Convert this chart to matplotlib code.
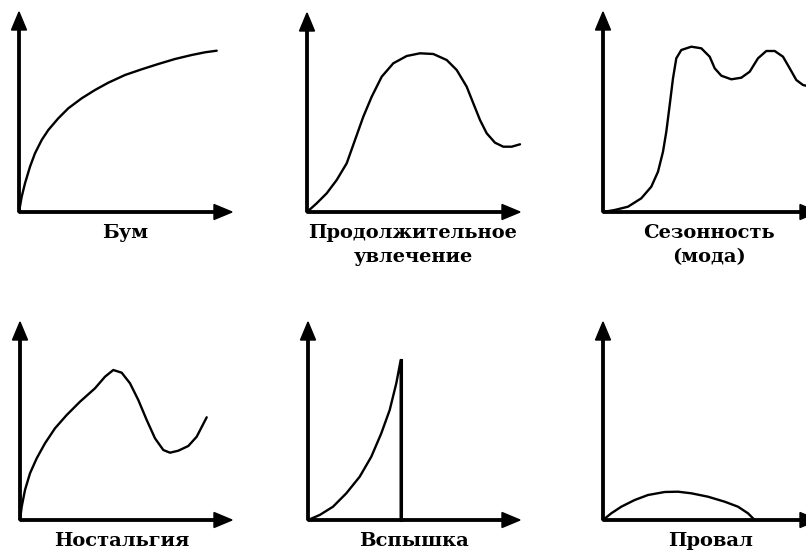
import matplotlib
matplotlib.use("Agg")
import matplotlib.pyplot as plt

# curve points (x, y offsets from each origin, pixels)
boom_x = [0, 2.7, 6, 11, 16, 22.7, 29.3, 39.3, 49.3, 62.7, 76, 89.3, 106, 122.7, 139.3, 156, 172.7, 186, 197.7]
boom_y = [0, 15.3, 28.7, 45.3, 58.7, 72, 82, 93.7, 103.7, 113.7, 122, 129.3, 137, 142.7, 148, 153, 157, 159.7, 161.3]

long_x = [0, 9.7, 19.7, 29.7, 39.7, 48, 56.3, 64.7, 74.7, 86.3, 99.7, 113, 126.3, 139.7, 149.7,
          159.7, 166.3, 173, 179.7, 188, 196.3, 204.7, 213]
long_y = [0, 8.7, 18.7, 32, 48.7, 72, 95.3, 115.3, 135.3, 148.7, 156, 158.7, 158, 152, 142,
          125.3, 108.7, 92, 78.7, 69.3, 65.3, 65.3, 67.7]

season_x = [0, 11.7, 25, 38.3, 48.3, 55, 60, 63.3, 66.7, 70, 73.3, 78.3, 88.3, 98.3, 106.7, 111.7,
            118.3, 128.3, 138.3, 146.7, 155, 163.3, 171.7, 180, 186.7, 193.3, 200, 203]
season_y = [0, 2, 5.3, 13.7, 25.3, 40.3, 60.3, 80.3, 107, 133.7, 153.7, 162, 165.3, 163.7, 155.3, 143.7,
            136.3, 132.7, 134.3, 140.3, 153.7, 161, 161, 155.3, 143.7, 132, 127, 126.3]

nost_x = [0, 1.7, 5, 10, 16.7, 25, 35, 46.7, 60, 75, 85, 93.3, 101.7, 110, 118.3, 126.7, 135,
          143.3, 150, 158.3, 168.3, 176.7, 186.7]
nost_y = [0, 13.3, 30, 46.7, 61.7, 76.7, 91.7, 105, 118.3, 131.7, 143.3, 150, 147.3, 136.7, 120, 100, 81.7,
          70, 67.3, 69.3, 74, 83.3, 102.7]

flash_x = [0, 11.7, 25, 38.3, 51.7, 63.3, 73.3, 81.7, 88.3, 92.7, 92.7]
flash_y = [0, 5, 13.3, 26.7, 43.3, 63.3, 86.7, 110, 136.7, 160, 0]

flop_x = [0, 8.3, 18.3, 31.7, 45, 61.7, 75, 88.3, 105, 121.7, 135, 145, 151.7]
flop_y = [0, 6.7, 13.3, 20, 25, 28, 28.3, 26.7, 23.3, 18.3, 13.3, 6.7, 0]

labels = ["Бум", "Продолжительное\nувлечение", "Сезонность\n(мода)",
          "Ностальгия", "Вспышка", "Провал"]
curves = [(boom_x, boom_y), (long_x, long_y), (season_x, season_y),
          (nost_x, nost_y), (flash_x, flash_y), (flop_x, flop_y)]

# panel origins in image pixels (left, top), axis arrow lengths, label centre
origins = [(19, 212), (307, 212), (603, 212), (20, 520), (308, 520), (603, 520)]
x_len = [213, 213, 215, 212, 212, 215]
y_len = [200, 199, 200, 198, 198, 198]
label_x = [106, 106, 106, 102, 106, 108]

W, H = 806, 554
fig = plt.figure(figsize=(W / 100, H / 100), dpi=100)

x0, x1, y0, y1 = -15, 235, -70, 215
for i in range(6):
    ox, oy = origins[i]
    ax = fig.add_axes([(ox + x0) / W, (H - oy + y0) / H, (x1 - x0) / W, (y1 - y0) / H])
    ax.set_xlim(x0, x1)
    ax.set_ylim(y0, y1)
    ax.axis("off")

    ax.arrow(0, 0, x_len[i], 0, width=2.4, head_width=15, head_length=18,
             length_includes_head=True, color="black", clip_on=False)
    ax.arrow(0, 0, 0, y_len[i], width=2.4, head_width=15, head_length=18,
             length_includes_head=True, color="black", clip_on=False)

    cx, cy = curves[i]
    ax.plot(cx, cy, color="black", lw=1.7, solid_joinstyle="round",
            solid_capstyle="round", clip_on=False)

    ax.text(label_x[i], -12, labels[i], ha="center", va="top", fontsize=14,
            fontweight="bold", family="DejaVu Serif", linespacing=1.45)

# the drop in "Вспышка" is drawn heavier than the curve
ax5 = fig.axes[4]
ax5.plot(flash_x[-2:], flash_y[-2:], color="black", lw=2.2, clip_on=False)

fig.savefig("out.png", dpi=100, facecolor="white")
